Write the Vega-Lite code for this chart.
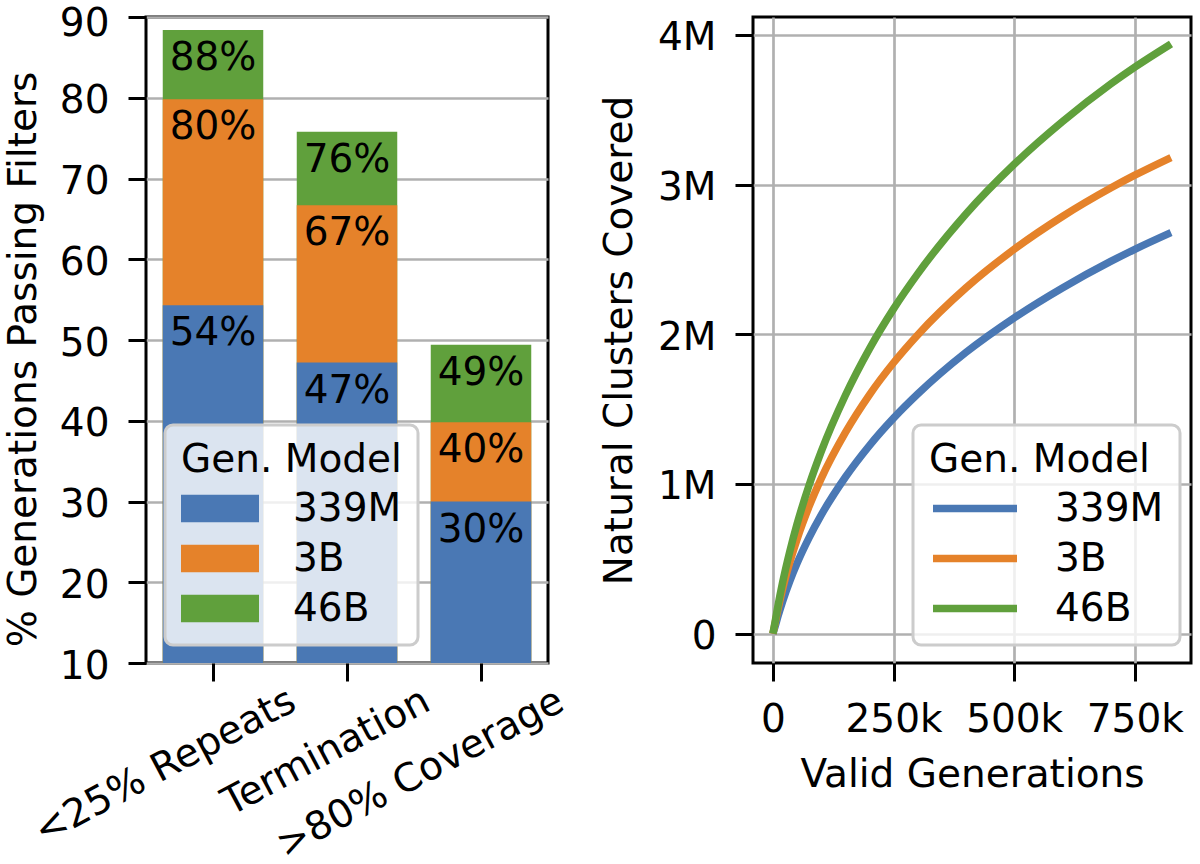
{
  "$schema": "https://vega.github.io/schema/vega-lite/v6.json",
  "background": "white",
  "padding": {"left": 2, "top": 2, "right": 5, "bottom": 0},
  "spacing": 205,
  "bounds": "flush",
  "resolve": {"scale": {"color": "independent"}, "legend": {"color": "independent"}},
  "config": {
    "font": "DejaVu Sans",
    "view": {"stroke": "#000000", "strokeWidth": 3},
    "axis": {
      "labelFont": "DejaVu Sans", "titleFont": "DejaVu Sans",
      "labelFontSize": 39, "titleFontSize": 39, "titleFontWeight": "normal",
      "labelColor": "#000000", "titleColor": "#000000",
      "tickColor": "#000000", "tickWidth": 3, "tickSize": 18,
      "domain": false, "gridColor": "#b0b0b0", "gridWidth": 2.7,
      "labelPadding": 19, "labelLimit": 500, "titleLimit": 800
    },
    "legend": {
      "labelFont": "DejaVu Sans", "titleFont": "DejaVu Sans",
      "labelFontSize": 39, "titleFontSize": 39, "titleFontWeight": "normal",
      "labelColor": "#000000", "titleColor": "#000000",
      "fillColor": "rgba(255,255,255,0.8)", "strokeColor": "#cccccc", "strokeWidth": 3,
      "cornerRadius": 8, "padding": 16, "rowPadding": 10, "titlePadding": 9,
      "labelOffset": 34, "clipHeight": 39, "labelLimit": 400, "titleLimit": 400
    }
  },
  "hconcat": [
    {
      "width": 402,
      "height": 646,
      "data": {"values": [
        {"filter": "<25% Repeats", "model": "46B", "pct": 88.4, "label": "88%"},
        {"filter": "<25% Repeats", "model": "3B", "pct": 79.8, "label": "80%"},
        {"filter": "<25% Repeats", "model": "339M", "pct": 54.3, "label": "54%"},
        {"filter": "Termination", "model": "46B", "pct": 75.8, "label": "76%"},
        {"filter": "Termination", "model": "3B", "pct": 66.7, "label": "67%"},
        {"filter": "Termination", "model": "339M", "pct": 47.2, "label": "47%"},
        {"filter": ">80% Coverage", "model": "46B", "pct": 49.4, "label": "49%"},
        {"filter": ">80% Coverage", "model": "3B", "pct": 39.8, "label": "40%"},
        {"filter": ">80% Coverage", "model": "339M", "pct": 30.0, "label": "30%"}
      ]},
      "encoding": {
        "x": {
          "field": "filter", "type": "nominal",
          "sort": ["<25% Repeats", "Termination", ">80% Coverage"],
          "scale": {"paddingInner": 0.25, "paddingOuter": 0.125},
          "axis": {"title": null, "labelAngle": -28, "labelAlign": "right", "labelBaseline": "top",
                   "labelOffset": 71, "labelPadding": 0, "grid": false}
        },
        "y": {
          "field": "pct", "type": "quantitative", "stack": null,
          "scale": {"domain": [10, 90], "nice": false, "zero": false},
          "axis": {"title": "% Generations Passing Filters", "values": [10, 20, 30, 40, 50, 60, 70, 80, 90],
                   "grid": true, "titlePadding": 16, "titleY": 342,
                   "labelBaseline": {"condition": {"test": "datum.value == 90", "value": "top"}, "value": "middle"},
                   "labelOffset": {"condition": {"test": "datum.value == 90", "value": -13}, "value": 3}}
        }
      },
      "layer": [
        {
          "mark": {"type": "bar", "clip": true},
          "encoding": {
            "color": {
              "field": "model", "type": "nominal",
              "scale": {"domain": ["339M", "3B", "46B"], "range": ["#4a78b4", "#e5822a", "#60a03c"]},
              "legend": {"title": "Gen. Model", "orient": "none", "legendX": 19, "legendY": 408,
                         "symbolType": "M-1,-0.35H1V0.35H-1Z", "symbolSize": 6084, "symbolStrokeWidth": 0,
                         "symbolOpacity": 1}
            }
          }
        },
        {
          "mark": {"type": "text", "baseline": "top", "dy": 9, "fontSize": 39, "font": "DejaVu Sans", "color": "#000000"},
          "encoding": {"text": {"field": "label"}}
        }
      ]
    },
    {
      "width": 438,
      "height": 646,
      "data": {"values": [
        {"model": "339M", "gens": 0, "clusters": 0},
        {"model": "339M", "gens": 5000, "clusters": 54000},
        {"model": "339M", "gens": 10000, "clusters": 111000},
        {"model": "339M", "gens": 20000, "clusters": 215000},
        {"model": "339M", "gens": 35000, "clusters": 351000},
        {"model": "339M", "gens": 50000, "clusters": 470000},
        {"model": "339M", "gens": 75000, "clusters": 642000},
        {"model": "339M", "gens": 100000, "clusters": 792000},
        {"model": "339M", "gens": 150000, "clusters": 1045000},
        {"model": "339M", "gens": 200000, "clusters": 1257000},
        {"model": "339M", "gens": 250000, "clusters": 1440000},
        {"model": "339M", "gens": 300000, "clusters": 1601000},
        {"model": "339M", "gens": 400000, "clusters": 1879000},
        {"model": "339M", "gens": 500000, "clusters": 2110000},
        {"model": "339M", "gens": 600000, "clusters": 2310000},
        {"model": "339M", "gens": 700000, "clusters": 2487000},
        {"model": "339M", "gens": 750000, "clusters": 2568000},
        {"model": "339M", "gens": 825000, "clusters": 2680000},
        {"model": "3B", "gens": 0, "clusters": 0},
        {"model": "3B", "gens": 5000, "clusters": 78000},
        {"model": "3B", "gens": 10000, "clusters": 157000},
        {"model": "3B", "gens": 20000, "clusters": 298000},
        {"model": "3B", "gens": 35000, "clusters": 477000},
        {"model": "3B", "gens": 50000, "clusters": 631000},
        {"model": "3B", "gens": 75000, "clusters": 850000},
        {"model": "3B", "gens": 100000, "clusters": 1036000},
        {"model": "3B", "gens": 150000, "clusters": 1343000},
        {"model": "3B", "gens": 200000, "clusters": 1596000},
        {"model": "3B", "gens": 250000, "clusters": 1810000},
        {"model": "3B", "gens": 300000, "clusters": 1996000},
        {"model": "3B", "gens": 400000, "clusters": 2310000},
        {"model": "3B", "gens": 500000, "clusters": 2568000},
        {"model": "3B", "gens": 600000, "clusters": 2787000},
        {"model": "3B", "gens": 700000, "clusters": 2977000},
        {"model": "3B", "gens": 750000, "clusters": 3063000},
        {"model": "3B", "gens": 825000, "clusters": 3181000},
        {"model": "46B", "gens": 0, "clusters": 0},
        {"model": "46B", "gens": 5000, "clusters": 88000},
        {"model": "46B", "gens": 10000, "clusters": 178000},
        {"model": "46B", "gens": 20000, "clusters": 341000},
        {"model": "46B", "gens": 35000, "clusters": 550000},
        {"model": "46B", "gens": 50000, "clusters": 732000},
        {"model": "46B", "gens": 75000, "clusters": 992000},
        {"model": "46B", "gens": 100000, "clusters": 1216000},
        {"model": "46B", "gens": 150000, "clusters": 1591000},
        {"model": "46B", "gens": 200000, "clusters": 1903000},
        {"model": "46B", "gens": 250000, "clusters": 2170000},
        {"model": "46B", "gens": 300000, "clusters": 2404000},
        {"model": "46B", "gens": 400000, "clusters": 2804000},
        {"model": "46B", "gens": 500000, "clusters": 3136000},
        {"model": "46B", "gens": 600000, "clusters": 3421000},
        {"model": "46B", "gens": 700000, "clusters": 3672000},
        {"model": "46B", "gens": 750000, "clusters": 3785000},
        {"model": "46B", "gens": 825000, "clusters": 3940000}
      ]},
      "mark": {"type": "line", "strokeWidth": 7.5, "clip": true, "interpolate": "monotone"},
      "encoding": {
        "x": {
          "field": "gens", "type": "quantitative",
          "scale": {"domain": [-41300, 866500], "nice": false, "zero": false},
          "axis": {"title": "Valid Generations", "values": [0, 250000, 500000, 750000],
                   "labelExpr": "datum.value == 0 ? '0' : format(datum.value, '~s')",
                   "grid": true, "titlePadding": 16}
        },
        "y": {
          "field": "clusters", "type": "quantitative",
          "scale": {"domain": [-196000, 4120000], "nice": false, "zero": false},
          "axis": {"title": "Natural Clusters Covered", "values": [0, 1000000, 2000000, 3000000, 4000000],
                   "labelExpr": "datum.value == 0 ? '0' : format(datum.value, '~s')",
                   "grid": true, "titlePadding": 18, "labelOffset": 3}
        },
        "color": {
          "field": "model", "type": "nominal",
          "scale": {"domain": ["339M", "3B", "46B"], "range": ["#4a78b4", "#e5822a", "#60a03c"]},
          "legend": {"title": "Gen. Model", "orient": "none", "legendX": 160, "legendY": 408,
                     "symbolType": "stroke", "symbolSize": 7056, "symbolStrokeWidth": 7.5}
        }
      }
    }
  ]
}
